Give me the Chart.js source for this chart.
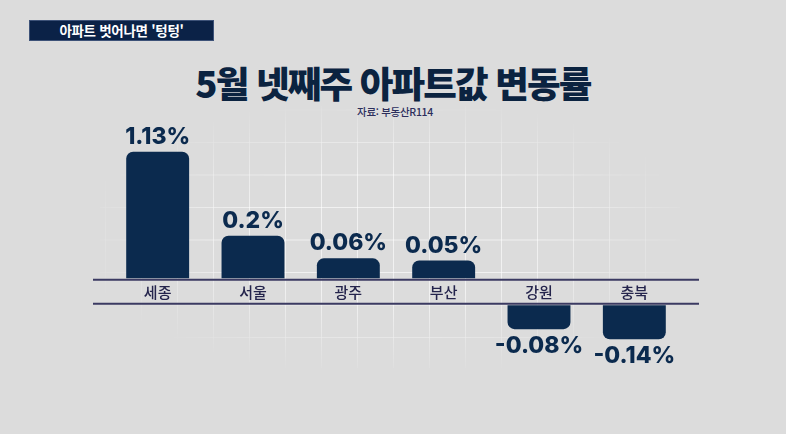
<!DOCTYPE html>
<html lang="ko">
<head>
<meta charset="utf-8">
<script src="https://cdn.jsdelivr.net/npm/chart.js@4"></script>
<style>
  html, body { margin: 0; padding: 0; }
  body {
    width: 786px; height: 434px; overflow: hidden; position: relative;
    background: #dcdcdc;
    font-family: "Noto Sans CJK KR", "Noto Sans", sans-serif;
  }
  .grid-bg {
    position: absolute; left: 100px; top: 106px; width: 580px; height: 262px;
    background-image:
      linear-gradient(to right, rgba(255,255,255,0.6) 1px, transparent 1px),
      linear-gradient(to bottom, rgba(255,255,255,0.6) 1px, transparent 1px);
    background-size: 36px 32.5px;
    background-position: 5px 3.5px;
    -webkit-mask-image: radial-gradient(ellipse 55% 55% at 50% 50%, #000 45%, transparent 100%);
    mask-image: radial-gradient(ellipse 55% 55% at 50% 50%, #000 45%, transparent 100%);
  }
  .tag {
    position: absolute; left: 29px; top: 20px; width: 183px; height: 19px;
    background: #0b2247; border: 1px solid #3d5278;
    color: #fff; font-weight: 700; font-size: 13.5px; letter-spacing: -0.3px;
    line-height: 19px; text-align: center;
  }
  .title {
    position: absolute; left: 0; width: 786px; top: 63px;
    text-align: center; color: #0b2340;
    font-weight: 900; font-size: 36.5px; line-height: 40px; letter-spacing: -1.8px;
  }
  .source {
    position: absolute; left: 0; width: 786px; top: 105px;
    text-align: center; color: #2c2e5c;
    font-weight: 500; font-size: 10.5px; line-height: 14px; letter-spacing: -0.3px;
    padding-left: 4px; box-sizing: border-box;
  }
  canvas { position: absolute; left: 0; top: 0; }
</style>
</head>
<body>
<div class="grid-bg"></div>
<div class="tag">아파트 벗어나면 '텅텅'</div>
<div class="title">5월 넷째주 아파트값 변동률</div>
<div class="source">자료: 부동산R114</div>
<canvas id="changeChart" width="786" height="434"></canvas>

<script>
// 1. Data
const regions = ["세종", "서울", "광주", "부산", "강원", "충북"];
const changes = [1.13, 0.2, 0.06, 0.05, -0.08, -0.14];
const valueLabels = changes.map((v) => v + "%");

const NAVY = "#0b2a4e";
const LINE = "#3b3a62";
const LABEL = "#24244c";

// 2. Value scale: bars are not drawn to a linear scale in the graphic,
// heights follow roughly |v|^0.63, and the label band splits + from -
class BandPowerScale extends Chart.LinearScale {
  static id = "bandPower";

  _t(v) {
    const p = this.options.exponent || 1;
    return Math.sign(v) * Math.pow(Math.abs(v), p);
  }

  _geom() {
    const gap = this.options.gap || 0;
    const tMax = this._t(this.max);
    const tMin = this._t(this.min);
    const k = (this.bottom - this.top - gap) / (tMax - tMin);
    return { gap, k, zero: this.top + tMax * k };
  }

  getPixelForValue(value) {
    const { gap, k, zero } = this._geom();
    const t = this._t(value);
    return t >= 0 ? zero - t * k : zero + gap - t * k;
  }

  getValueForPixel(pixel) {
    const { gap, k, zero } = this._geom();
    const p = this.options.exponent || 1;
    let t;
    if (pixel <= zero) t = (zero - pixel) / k;
    else if (pixel >= zero + gap) t = (zero + gap - pixel) / k;
    else return 0;
    return Math.sign(t) * Math.pow(Math.abs(t), 1 / p);
  }

  // top edge of the part of the axis holding negative values
  getLowerZeroPixel() {
    const { gap, zero } = this._geom();
    return zero + gap;
  }
}
Chart.register(BandPowerScale);

// 3. Plugin: negative bars hang from the bottom of the label band
const bandBase = {
  id: "bandBase",
  beforeDatasetsDraw(chart) {
    const y = chart.scales.y;
    const meta = chart.getDatasetMeta(0);
    meta.data.forEach((bar, i) => {
      if (changes[i] < 0) bar.base = y.getLowerZeroPixel();
    });
  }
};

// 4. Plugin: band lines, region names and value labels
const bandLabels = {
  id: "bandLabels",
  afterDatasetsDraw(chart) {
    const { ctx, scales } = chart;
    const x = scales.x;
    const y = scales.y;
    const upper = y.getPixelForValue(0);
    const lower = y.getLowerZeroPixel();

    ctx.save();
    ctx.strokeStyle = LINE;
    ctx.lineWidth = 2;
    ctx.beginPath();
    ctx.moveTo(93, upper + 1.5);
    ctx.lineTo(699, upper + 1.5);
    ctx.moveTo(93, lower - 1.5);
    ctx.lineTo(699, lower - 1.5);
    ctx.stroke();

    ctx.textAlign = "center";
    ctx.textBaseline = "middle";
    ctx.fillStyle = LABEL;
    ctx.font = '500 15px "Noto Sans CJK KR"';
    regions.forEach((name, i) => {
      ctx.fillText(name, x.getPixelForValue(i), (upper + lower) / 2 + 1);
    });

    ctx.fillStyle = NAVY;
    ctx.font = '800 23px Inter, "Noto Sans"';
    ctx.textBaseline = "alphabetic";
    chart.getDatasetMeta(0).data.forEach((bar, i) => {
      const v = changes[i];
      const cx = x.getPixelForValue(i);
      if (v >= 0) ctx.fillText(valueLabels[i], cx, bar.y - 8);
      else ctx.fillText(valueLabels[i], cx, bar.y + 24);
    });
    ctx.restore();
  }
};

// 5. Chart
new Chart(document.getElementById("changeChart"), {
  type: "bar",
  data: {
    labels: regions,
    datasets: [
      {
        data: changes,
        backgroundColor: NAVY,
        borderRadius: 7,
        barPercentage: 0.66,
        categoryPercentage: 1
      }
    ]
  },
  options: {
    responsive: false,
    animation: false,
    layout: { padding: { left: 110, right: 104, top: 140, bottom: 53 } },
    plugins: { legend: { display: false }, tooltip: { enabled: false }, title: { display: false } },
    scales: {
      x: { display: false, grid: { display: false } },
      y: { type: "bandPower", display: false, min: -0.5, max: 1.3, exponent: 0.63, gap: 27 }
    }
  },
  plugins: [bandBase, bandLabels]
});
</script>
</body>
</html>
